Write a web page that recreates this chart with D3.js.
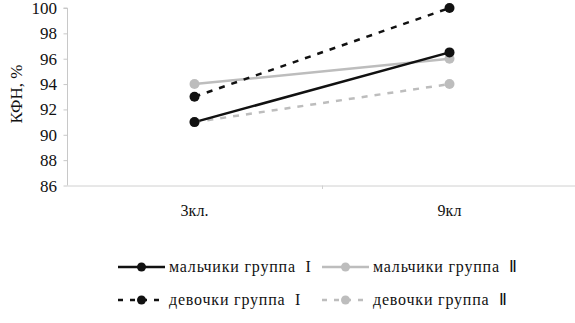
<!DOCTYPE html>
<html><head><meta charset="utf-8">
<script src="https://cdn.jsdelivr.net/npm/d3@7"></script>
<style>
body{margin:0;background:#fff}
#wrap{position:relative;width:575px;height:323px;overflow:hidden}
svg{display:block;position:absolute;left:0;top:0}
.lbl{position:absolute;color:#111;white-space:pre;line-height:1}
</style>
</head><body><div id="wrap"><svg id="c" width="575" height="323"></svg></div>
<script>
const categories = ["3кл.", "9кл"];
const seriesNames = ["мальчики группа  I", "мальчики группа  Ⅱ", "девочки группа  I", "девочки группа  Ⅱ"];
const boysI = [91, 96.5];
const boysII = [94, 96];
const girlsI = [93, 100];
const girlsII = [91, 94];
const yTicks = [86, 88, 90, 92, 94, 96, 98, 100];
const seriesColors = ["#111", "#bdbdbd", "#111", "#bdbdbd"];
const seriesDash = [null, null, "6,7", "6,7"];

const svg = d3.select("#c");
const wrap = d3.select("#wrap");
const x = d3.scaleBand().domain(categories).range([67, 577]);
const y = d3.scaleLinear().domain([86, 100]).range([185.5, 8]);
const fmt = d3.format("d");

function label(txt, px, py, size, tf) {
  return wrap.append("div").attr("class", "lbl")
    .style("font-family", "'Liberation Serif'", "important")
    .style("left", px + "px").style("top", py + "px").style("font-size", size + "px")
    .style("transform", tf).text(txt);
}

// y axis (lines via d3 axis, labels as html text)
const ya = svg.append("g").attr("transform", "translate(67.5,0)")
  .call(d3.axisLeft(y).tickValues(yTicks).tickSize(4).tickFormat(""));
ya.select(".domain").attr("stroke", "#c8c8c8").attr("d", "M-4," + y(100) + "H0V" + y(86));
ya.selectAll(".tick line").attr("stroke", "#c8c8c8");
yTicks.forEach(v => label(fmt(v), 57, y(v), 17, "translate(-100%,-50%)"));

// x axis
const xa = svg.append("g").attr("transform", "translate(0,185.5)")
  .call(d3.axisBottom(x).tickSize(0).tickFormat(""));
xa.select(".domain").attr("stroke", "#d0d0d0");
svg.append("line").attr("x1", x.step() + 67 + 0.5).attr("x2", x.step() + 67 + 0.5)
  .attr("y1", 185.5).attr("y2", 189).attr("stroke", "#d0d0d0");
categories.forEach(c => label(c, x(c) + x.bandwidth() / 2, 211, 16, "translate(-50%,-50%)"));

// y label
label("КФН, %", 16, 94, 17, "translate(-50%,-50%) rotate(-90deg)");

const data = [boysI, boysII, girlsI, girlsII];
const line = d3.line().x((d, i) => x(categories[i]) + x.bandwidth() / 2).y(d => y(d));
const order = [1, 3, 0, 2];
order.forEach(k => {
  svg.append("path").attr("d", line(data[k])).attr("fill", "none")
    .attr("stroke", seriesColors[k]).attr("stroke-width", 2.5)
    .attr("stroke-dasharray", seriesDash[k]);
});
order.forEach(k => {
  svg.selectAll(null).data(data[k]).enter().append("circle")
    .attr("cx", (d, i) => x(categories[i]) + x.bandwidth() / 2).attr("cy", d => y(d))
    .attr("r", 5).attr("fill", seriesColors[k]);
});

// legend
const legPos = [[118, 267], [322, 267], [118, 300], [322, 300]];
seriesNames.forEach((n, k) => {
  const [lx, ly] = legPos[k];
  const g = svg.append("g");
  g.append("line").attr("x1", lx).attr("x2", lx + 47).attr("y1", ly).attr("y2", ly)
    .attr("stroke", seriesColors[k]).attr("stroke-width", 2.5)
    .attr("stroke-dasharray", seriesDash[k] ? "5,7" : null);
  g.append("circle").attr("cx", lx + 23.5).attr("cy", ly).attr("r", 4.5).attr("fill", seriesColors[k]);
  label(n, lx + 51, ly, 16, "translate(0,-50%)").style("letter-spacing", "0.8px");
});
</script></body></html>
